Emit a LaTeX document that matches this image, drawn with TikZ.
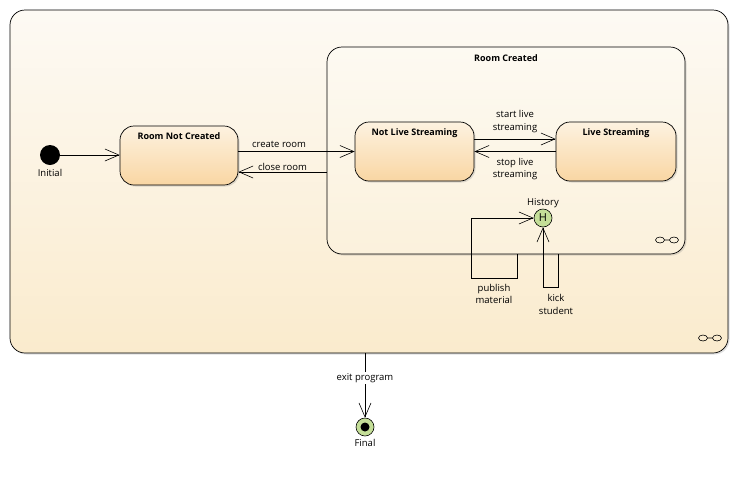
\documentclass[tikz,border=0pt]{standalone}
\usepackage{fontspec}
\setmainfont{Open Sans}
\usepackage{tikz}
\usetikzlibrary{arrows.meta,positioning,calc,shadows}
\definecolor{outertop}{RGB}{253,250,244}
\definecolor{outerbottom}{RGB}{250,235,205}
\definecolor{innertop}{RGB}{253,250,242}
\definecolor{innerbottom}{RGB}{251,241,220}
\definecolor{statetop}{RGB}{253,242,224}
\definecolor{statebottom}{RGB}{249,214,163}
\definecolor{pseudogreen}{RGB}{196,222,152}
\tikzset{
    compstate/.style={
        rectangle,
        draw=black,
        rounded corners=15pt,
        line width=0.7pt,
        drop shadow={shadow xshift=1.5pt, shadow yshift=-1.5pt, opacity=0.25}
    },
    statebox/.style={
        rectangle,
        draw=black,
        rounded corners=14pt,
        line width=0.7pt,
        minimum width=119pt,
        minimum height=59pt,
        top color=statetop,
        bottom color=statebottom,
        drop shadow={shadow xshift=1.5pt, shadow yshift=-1.5pt, opacity=0.25}
    },
    statetitle/.style={
        font=\fontsize{9}{10}\selectfont\bfseries
    },
    pseudo/.style={
        circle,
        draw=black,
        line width=0.6pt,
        inner sep=0pt,
        minimum size=18pt
    },
    trans/.style={
        -{Straight Barb[length=14pt,width=12pt]},
        line width=0.6pt
    }
}

\begin{document}
\begin{tikzpicture}[x=1pt,y=-1pt,font=\fontsize{9.5}{12.5}\selectfont]
\useasboundingbox (0,0) rectangle (738,483);

% Program (outer composite state)
\node[compstate, minimum width=718pt, minimum height=343pt, top color=outertop, bottom color=outerbottom] (program) at (369,181.5) {};

% Room Created (inner composite state)
\node[compstate, minimum width=358pt, minimum height=207pt, top color=innertop, bottom color=innerbottom,
      label={[statetitle, anchor=north, yshift=-4pt]north:Room Created}] (room-created) at (506,150.5) {};

% Initial
\node[circle, fill=black, inner sep=0pt, minimum size=20pt, label={[inner sep=3.5pt]below:Initial}] (initial) at (50,155) {};

% States
\node[statebox, minimum width=118pt, label={[statetitle, anchor=north, yshift=-3.5pt]north:Room Not Created}] (room-not-created) at (179,155.5) {};
\node[statebox, label={[statetitle, anchor=north, yshift=-3.5pt]north:Not Live Streaming}] (not-live) at (414.5,151.5) {};
\node[statebox, minimum width=120pt, label={[statetitle, anchor=north, yshift=-3.5pt]north:Live Streaming}] (live) at (616,151.5) {};

% History
\node[pseudo, fill=pseudogreen, font=\fontsize{11}{11}\selectfont, label={[inner sep=1pt]above:History}] (history) at (543,218) {H};

% Final
\node[pseudo, fill=pseudogreen, label={[inner sep=3pt]below:Final}] (final) at (365,427) {};
\fill (final) circle (4.5);

% Composite icons
\foreach \cx/\cy in {667/240, 710/338} {
    \draw[line width=0.6pt] (\cx-7,\cy) ellipse (4.5 and 3) (\cx+7,\cy) ellipse (4.5 and 3) (\cx-2.5,\cy) -- (\cx+2.5,\cy);
}

% Transitions
\draw[trans] (initial.east) -- (initial.east -| room-not-created.west);
\draw[trans] (room-not-created.east |- not-live.west) -- node[above, pos=0.35, inner sep=4pt] {create room} (not-live.west);
\draw[trans] ([yshift=-16.5pt]room-not-created.east -| room-created.west) -- node[above, pos=0.5, inner sep=1.5pt] {close room} ([yshift=-16.5pt]room-not-created.east);
\draw[trans] ([yshift=12.5pt]not-live.east) -- node[above, align=center, inner sep=6pt] {start live\\streaming} ([yshift=12.5pt]not-live.east -| live.west);
\draw[trans] (live.west |- not-live.east) -- node[below, align=center, inner sep=6pt] {stop live\\streaming} (not-live.east);
\draw[trans] ([xshift=11pt]room-created.south) -- ++(0,24) -- ++(-46,0) |- (history.west);
\node[align=center] (publish-label) at (494,294) {publish\\material};
\draw[trans] ([xshift=52pt]room-created.south) -- ++(0,33) -| (history.south);
\node[align=center] (kick-label) at (556,304.5) {kick\\student};
\draw[trans] (program.south -| final.north) -- node[pos=0.38, fill=white, inner sep=1.5pt] {exit program} (final.north);
\end{tikzpicture}
\end{document}
